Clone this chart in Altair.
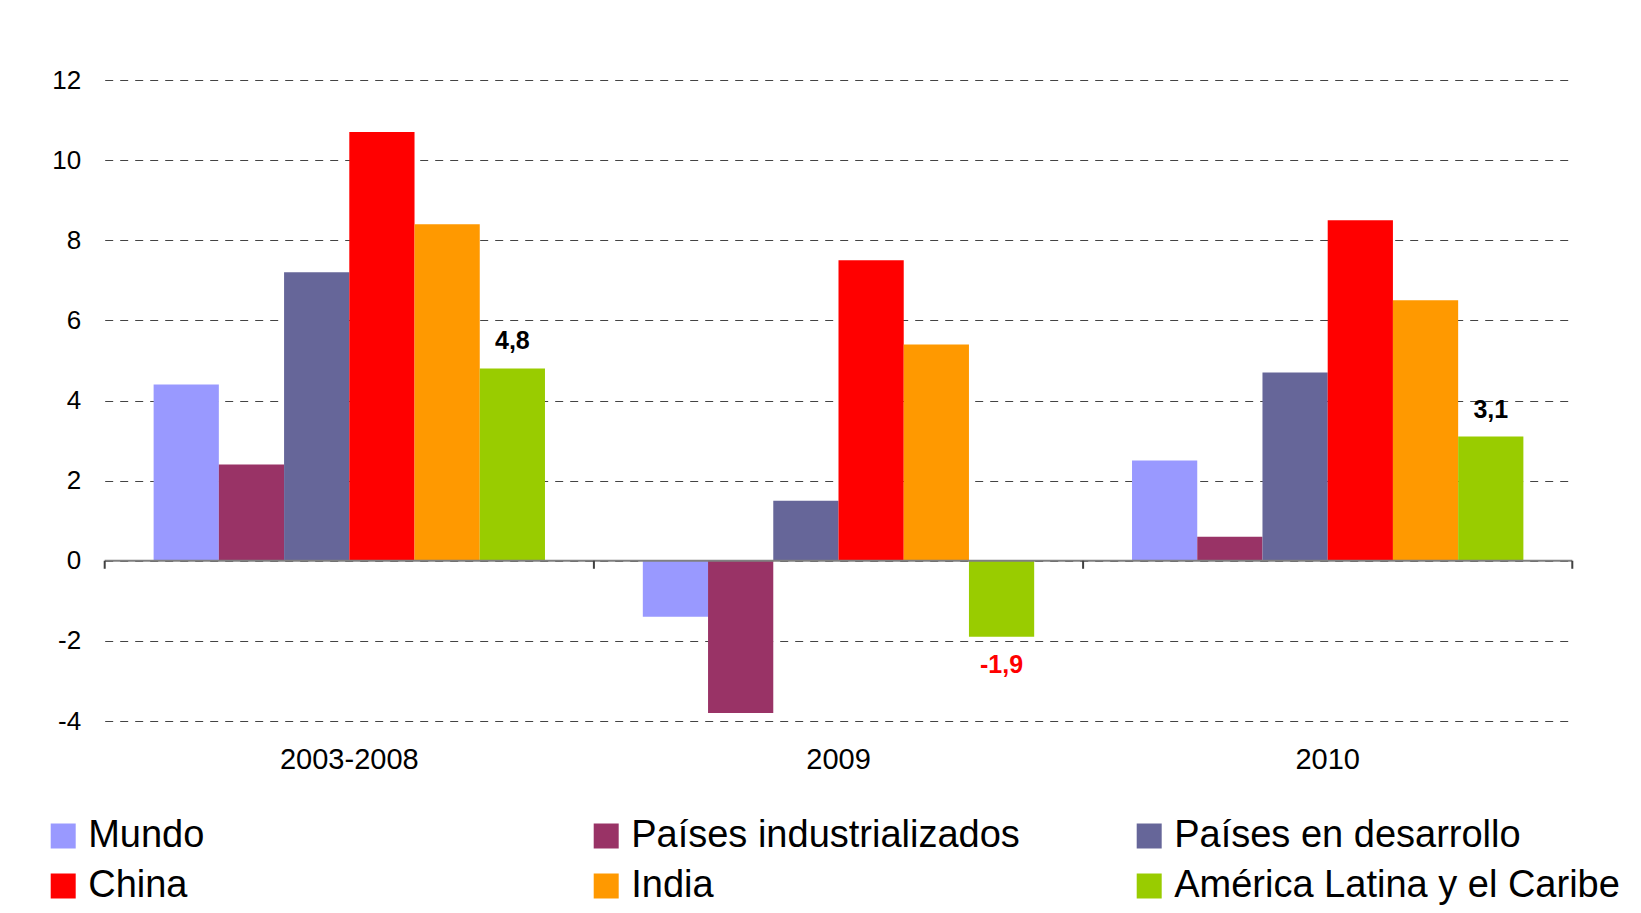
import altair as alt
import pandas as pd

periods = ["2003-2008", "2009", "2010"]
series = ["Mundo", "Países industrializados", "Países en desarrollo",
          "China", "India", "América Latina y el Caribe"]
colors = ["#9999FF", "#993366", "#666699", "#FF0000", "#FF9900", "#99CC00"]

mundo = [4.4, -1.4, 2.5]
industrializados = [2.4, -3.8, 0.6]
desarrollo = [7.2, 1.5, 4.7]
china = [10.7, 7.5, 8.5]
india = [8.4, 5.4, 6.5]
alc = [4.8, -1.9, 3.1]

y_ticks = [-4, -2, 0, 2, 4, 6, 8, 10, 12]

values = [mundo, industrializados, desarrollo, china, india, alc]
rows = []
for s, vals in zip(series, values):
    for p, v in zip(periods, vals):
        rows.append({"periodo": p, "serie": s, "valor": v})
df = pd.DataFrame(rows)

lab = pd.DataFrame({"periodo": periods, "serie": series[-1], "valor": alc})
lab["texto"] = lab["valor"].map(lambda v: f"{v:.1f}".replace(".", ","))

FONT = "Liberation Sans"

x_enc = alt.X("periodo:N", sort=periods,
              scale=alt.Scale(paddingInner=0, paddingOuter=0),
              axis=alt.Axis(title=None, labelAngle=0, domain=False, ticks=False,
                            labelFontSize=29, labelFont=FONT, labelColor="black",
                            labelPadding=24))
xo_enc = alt.XOffset("serie:N", sort=series,
                     scale=alt.Scale(paddingOuter=0.75, paddingInner=0))
y_scale = alt.Scale(domain=[-4, 12], nice=False)
y_enc = alt.Y("valor:Q", scale=y_scale,
              axis=alt.Axis(title=None, values=y_ticks, domain=False, ticks=False,
                            labelExpr="'' + datum.value",
                            labelFontSize=26, labelFont=FONT, labelColor="black",
                            labelPadding=24, grid=True, gridDash=[8, 7],
                            gridColor="#444444", gridWidth=1))

bars = alt.Chart(df).mark_bar(strokeWidth=0).encode(
    x=x_enc,
    xOffset=xo_enc,
    y=y_enc,
    color=alt.Color("serie:N", sort=series,
                    scale=alt.Scale(domain=series, range=colors),
                    legend=alt.Legend(title=None, orient="none", legendX=-60.5, legendY=737,
                                      direction="horizontal",
                                      columns=3, gridAlign="all", columnPadding=53,
                                      rowPadding=12, symbolType="square", symbolSize=625,
                                      symbolStrokeWidth=0, labelFontSize=38, labelFont=FONT,
                                      labelColor="black", labelOffset=6, labelLimit=1000,
                                      padding=0)),
)

zero = alt.Chart(pd.DataFrame({"v": [0]})).mark_rule(color="#808080", strokeWidth=2).encode(
    y=alt.Y("v:Q", scale=y_scale)
)

tick_df = pd.DataFrame({"periodo": periods, "a": [0, 0, 0], "b": [-0.2, -0.2, -0.2]})
ticks_start = alt.Chart(tick_df).mark_rule(color="#404040", strokeWidth=2).encode(
    x=alt.X("periodo:N", sort=periods, bandPosition=0),
    y=alt.Y("a:Q", scale=y_scale),
    y2="b:Q",
)
ticks_end = alt.Chart(tick_df.tail(1)).mark_rule(color="#404040", strokeWidth=2).encode(
    x=alt.X("periodo:N", sort=periods, bandPosition=1),
    y=alt.Y("a:Q", scale=y_scale),
    y2="b:Q",
)

lab_pos = alt.Chart(lab).transform_filter("datum.valor >= 0").mark_text(
    font=FONT, fontSize=25, fontWeight="bold", color="black", baseline="middle", dy=-27
).encode(
    x=alt.X("periodo:N", sort=periods),
    xOffset=alt.XOffset("serie:N", sort=series),
    y=alt.Y("valor:Q", scale=y_scale),
    text="texto:N",
)
lab_neg = alt.Chart(lab).transform_filter("datum.valor < 0").mark_text(
    font=FONT, fontSize=25, fontWeight="bold", color="#FF0000", baseline="middle", dy=28
).encode(
    x=alt.X("periodo:N", sort=periods),
    xOffset=alt.XOffset("serie:N", sort=series),
    y=alt.Y("valor:Q", scale=y_scale),
    text="texto:N",
)

chart = alt.layer(bars, zero, ticks_start, ticks_end, lab_pos, lab_neg).properties(
    width=1467.6, height=641,
    autosize=alt.AutoSizeParams(type="none"),
    padding={"left": 96.7, "top": 72, "right": 60.7, "bottom": 184},
    background="white",
).configure_view(stroke=None)

chart.save("out.html", embed_options={"renderer": "svg", "actions": False})
